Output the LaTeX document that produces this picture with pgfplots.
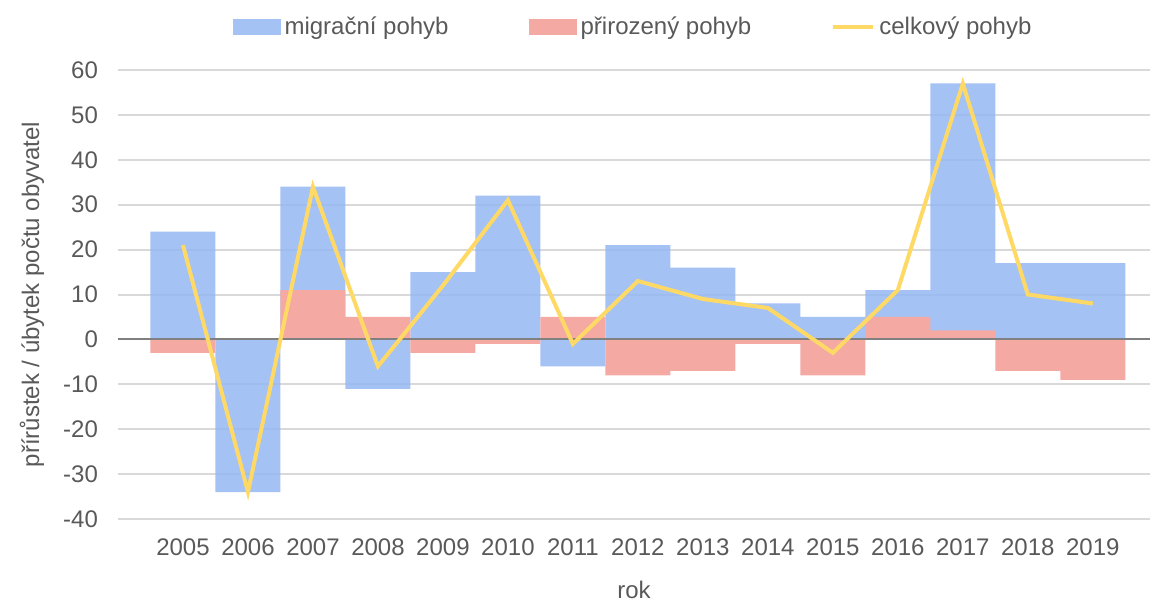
\documentclass[border=0pt]{standalone}
\usepackage{fontspec}
\setmainfont{Liberation Sans}
\usepackage{pgfplots}
\pgfplotsset{compat=1.18}
\definecolor{migr}{RGB}{148,183,242}
\definecolor{prir}{RGB}{244,169,163}
\definecolor{celk}{RGB}{255,217,102}
\definecolor{txt}{RGB}{89,89,89}
\definecolor{gridc}{RGB}{217,217,217}
\definecolor{zeroc}{RGB}{128,128,128}
\pgfplotsset{
  barleg/.style={legend image code/.code={\fill[##1] (0pt,-4pt) rectangle (24pt,4pt);}},
  lineleg/.style={legend image code/.code={\draw[##1] (0pt,0pt) -- (20pt,0pt);}},
}
\begin{document}
\begin{tikzpicture}
\begin{axis}[name=ax, scale only axis, width=516pt, height=224.5pt,
  xmin=-1, xmax=14.88, ymin=-40, ymax=60,
  xtick={0,1,2,3,4,5,6,7,8,9,10,11,12,13,14},
  xticklabels={2005,2006,2007,2008,2009,2010,2011,2012,2013,2014,2015,2016,2017,2018,2019},
  ytick={-40,-30,-20,-10,0,10,20,30,40,50,60},
  yticklabels={-40,-30,-20,-10,0,10,20,30,40,50,60},
  axis line style={draw=none}, major tick length=0pt,
  ymajorgrids, grid style={gridc, line width=1pt},
  tick label style={font=\fontsize{12}{14}\selectfont, text=txt},
  yticklabel style={xshift=-6.5pt},
  xticklabel style={yshift=-6.5pt},
  xlabel={rok}, ylabel={přírůstek / úbytek počtu obyvatel},
  label style={font=\fontsize{12}{14}\selectfont, text=txt},
  xlabel style={at={(axis description cs:0.5,-0.158)}, anchor=center},
  ylabel style={at={(axis description cs:-0.0833,0.5)}, anchor=center},
  legend style={at={(0.5,1)}, anchor=center, yshift=21.5pt, draw=none, fill=none,
    font=\fontsize{12}{14}\selectfont, text=txt,
    /tikz/every even column/.append style={column sep=38pt}},
  legend columns=3,
]
\addplot[ybar, bar width=1, bar shift=0pt, fill=migr, fill opacity=0.85, draw=none, barleg]
  coordinates {(0,24) (1,-34) (2,34) (3,-11) (4,15) (5,32) (6,-6) (7,21) (8,16) (9,8) (10,5) (11,11) (12,57) (13,17) (14,17)};
\addlegendentry{migrační pohyb}
\addplot[ybar, bar width=1, bar shift=0pt, fill=prir, draw=none, barleg]
  coordinates {(0,-3) (1,0) (2,11) (3,5) (4,-3) (5,-1) (6,5) (7,-8) (8,-7) (9,-1) (10,-8) (11,5) (12,2) (13,-7) (14,-9)};
\addlegendentry{přirozený pohyb}
\addplot[forget plot, zeroc, line width=1pt, mark=none] coordinates {(-1,0) (14.88,0)};
\addplot[celk, line width=2pt, sharp plot, mark=none, lineleg]
  coordinates {(0,21) (1,-34) (2,34) (3,-6) (4,12) (5,31) (6,-1) (7,13) (8,9) (9,7) (10,-3) (11,11) (12,57) (13,10) (14,8)};
\addlegendentry{celkový pohyb}
\end{axis}
\pgfresetboundingbox
\path ([xshift=-59pt,yshift=-41pt]ax.south west) rectangle ([yshift=35pt]ax.north east);
\end{tikzpicture}
\end{document}
